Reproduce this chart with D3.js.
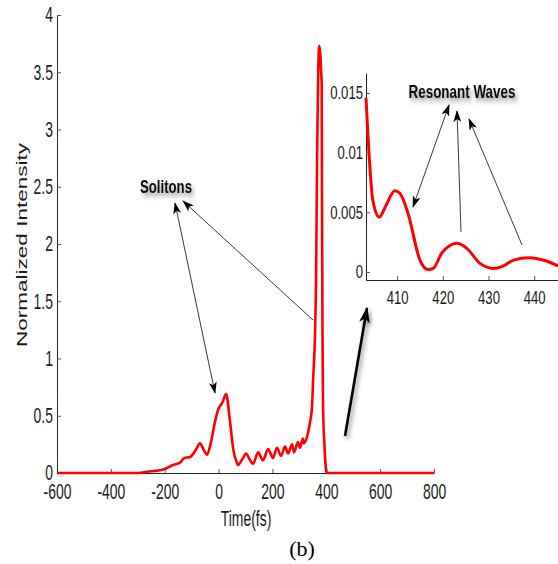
<!DOCTYPE html>
<html><head><meta charset="utf-8">
<script src="https://cdn.jsdelivr.net/npm/d3@7"></script>
<style>
html,body{margin:0;padding:0;background:#fff;}
svg{display:block;}
</style></head>
<body>
<svg id="chart" width="558" height="564"></svg>
<script>
// ---- Data ----
const mainTime = [-600,-300,-266,-206,-169,-143,-128,-106,-85,-69,-55,-43,-30,-13,-2,15,28,42,55,68,72,88,102,115,128,147,165,184,202,217,232,247,258,273,280,295,302,313,317,332,340,347,351,358,362,366,370,374,378,381,383,384,386,388,393,399,402,800];
const mainIntensity = [0,0,0.01,0.03,0.07,0.09,0.13,0.14,0.2,0.26,0.2,0.16,0.25,0.45,0.55,0.62,0.69,0.46,0.2,0.09,0.07,0.12,0.17,0.12,0.08,0.18,0.11,0.21,0.13,0.22,0.15,0.23,0.17,0.25,0.18,0.27,0.22,0.3,0.26,0.35,0.45,0.58,0.81,1.2,1.68,2.8,3.5,3.73,3.65,3.5,3.4,2.4,1.2,0.58,0.25,0.03,0,0];
const insetTime = [403.2,404.7,406.1,407.6,409.5,410.6,412.4,415.0,416.8,417.9,419.8,421.5,423.0,425.2,428.2,431.1,432.9,435.5,438.8,442.8,445.2];
const insetIntensity = [0.0146,0.0060,0.0046,0.0056,0.0068,0.0066,0.0049,0.0010,0.0002,0.0003,0.0016,0.0022,0.0024,0.0020,0.0007,0.0003,0.00045,0.0010,0.0012,0.0009,0.0005];
const mainXTicks = [-600,-400,-200,0,200,400,600,800];
const mainXLabels = ["-600","-400","-200","0","200","400","600","800"];
const mainYTicks = [0,0.5,1,1.5,2,2.5,3,3.5,4];
const mainYLabels = ["0","0.5","1","1.5","2","2.5","3","3.5","4"];
const insetXTicks = [410,420,430,440];
const insetXLabels = ["410","420","430","440"];
const insetYTicks = [0,0.005,0.01,0.015];
const insetYLabels = ["0","0.005","0.01","0.015"];

const svg = d3.select("#chart");
const SANS = "'Liberation Sans',Arial,sans-serif";
const SX = 0.82; // horizontal squeeze to mimic a narrow face

// defs: arrow markers & shadow
const defs = svg.append("defs");
const f = defs.append("filter").attr("id","shadow").attr("x","-30%").attr("y","-50%").attr("width","160%").attr("height","200%");
f.append("feDropShadow").attr("dx",2).attr("dy",3).attr("stdDeviation",2).attr("flood-color","#000").attr("flood-opacity",0.45);
function marker(id, size){
  defs.append("marker").attr("id",id).attr("viewBox","0 0 12 8").attr("refX",11).attr("refY",4)
    .attr("markerWidth",size).attr("markerHeight",size*8/12).attr("markerUnits","userSpaceOnUse")
    .attr("orient","auto-start-reverse")
    .append("path").attr("d","M0,0 L12,4 L0,8 L3,4 Z").attr("fill","#000");
}
marker("ah",12);
marker("ahBig",16);

// ---- Main chart scales ----
const x = d3.scaleLinear().domain([-600,800]).range([57,434]);
const y = d3.scaleLinear().domain([0,4]).range([473,15]);

const gx = svg.append("g").attr("transform","translate(0,473)")
  .call(d3.axisBottom(x).tickValues(mainXTicks).tickSizeInner(-4).tickSizeOuter(0).tickFormat((d,i)=>mainXLabels[i]));
const gy = svg.append("g").attr("transform","translate(57,0)")
  .call(d3.axisLeft(y).tickValues(mainYTicks).tickSizeInner(-4).tickSizeOuter(0).tickFormat((d,i)=>mainYLabels[i]));

function styleAxis(g, horizontal, base, sy, fs){
  g.select(".domain").attr("stroke","#222").attr("stroke-width",1);
  g.selectAll(".tick line").attr("stroke","#555");
  g.selectAll(".tick text").attr("fill","#1a1a1a").style("font-family",SANS).style("font-size",fs+"px")
    .attr("x",null).attr("y",0).attr("dy",null).each(function(){
      const t = d3.select(this);
      if(horizontal){
        t.attr("text-anchor","middle").attr("transform",`translate(0,${base}) scale(${SX},${sy})`);
      } else {
        t.attr("text-anchor","end").attr("transform",`translate(${base},${fs*0.32*sy}) scale(${SX},${sy})`);
      }
    });
}
styleAxis(gx,true,26,1.25,17);
styleAxis(gy,false,-4,1.25,17);

// main curve
const line = d3.line().curve(d3.curveMonotoneX).x((d,i)=>x(mainTime[i])).y((d,i)=>y(mainIntensity[i]));
svg.append("path").datum(mainIntensity).attr("d",line)
  .attr("fill","none").attr("stroke","#ff0000").attr("stroke-width",2.6).attr("stroke-linejoin","round");

// ---- Inset ----
const xi = d3.scaleLinear().domain([403.2,445.2]).range([366,558]);
const yi = d3.scaleLinear().domain([-0.00067,0.01667]).range([280,73]);
const gxi = svg.append("g").attr("transform","translate(0,280)")
  .call(d3.axisBottom(xi).tickValues(insetXTicks).tickSizeInner(-4).tickSizeOuter(0).tickFormat((d,i)=>insetXLabels[i]));
const gyi = svg.append("g").attr("transform","translate(366,0)")
  .call(d3.axisLeft(yi).tickValues(insetYTicks).tickSizeInner(-4).tickSizeOuter(0).tickFormat((d,i)=>insetYLabels[i]));
styleAxis(gxi,true,24,1.2,16);
styleAxis(gyi,false,-3,1.15,16);

const lineI = d3.line().curve(d3.curveMonotoneX).x((d,i)=>xi(insetTime[i])).y((d,i)=>yi(insetIntensity[i]));
svg.append("path").datum(insetIntensity).attr("d",lineI)
  .attr("fill","none").attr("stroke","#ff0000").attr("stroke-width",3).attr("stroke-linejoin","round");

// ---- Labels ----
svg.append("text").attr("transform","translate(27,245) rotate(-90)").attr("text-anchor","middle")
  .attr("textLength",204).attr("lengthAdjust","spacingAndGlyphs")
  .style("font-family",SANS).style("font-size","15px").attr("fill","#1a1a1a")
  .text("Normalized Intensity");
svg.append("text").attr("transform",`translate(246,526) scale(${SX},1.25)`).attr("text-anchor","middle")
  .style("font-family",SANS).style("font-size","17px").attr("fill","#1a1a1a").text("Time(fs)");
svg.append("text").attr("x",302).attr("y",556).attr("text-anchor","middle")
  .style("font-family","'Liberation Serif','Times New Roman',serif").style("font-size","22px").attr("fill","#000").text("(b)");

// ---- Annotations ----
function annText(txt,cx,base,len){
  svg.append("text").attr("transform",`translate(${cx},${base}) scale(1,1.2)`).attr("text-anchor","middle")
    .attr("textLength",len).attr("lengthAdjust","spacingAndGlyphs")
    .style("font-family",SANS).style("font-size","15px").style("font-weight","bold").attr("fill","#111")
    .attr("filter","url(#shadow)").text(txt);
}
annText("Solitons",166,193,52);
annText("Resonant Waves",462,98,107);

function arrow(x1,y1,x2,y2,both){
  const l = svg.append("line").attr("x1",x1).attr("y1",y1).attr("x2",x2).attr("y2",y2)
    .attr("stroke","#222").attr("stroke-width",0.9).attr("marker-end","url(#ah)");
  if(both) l.attr("marker-start","url(#ah)");
}
arrow(215,393,175,203,true);
arrow(313,320,183,201,false);
arrow(413,207,449,105,true);
arrow(461,232,457,111,false);
arrow(522,245,469,119,false);

svg.append("line").attr("x1",345).attr("y1",436).attr("x2",367).attr("y2",308)
  .attr("stroke","#000").attr("stroke-width",2.6).attr("marker-end","url(#ahBig)").attr("filter","url(#shadow)");
</script>
</body></html>
